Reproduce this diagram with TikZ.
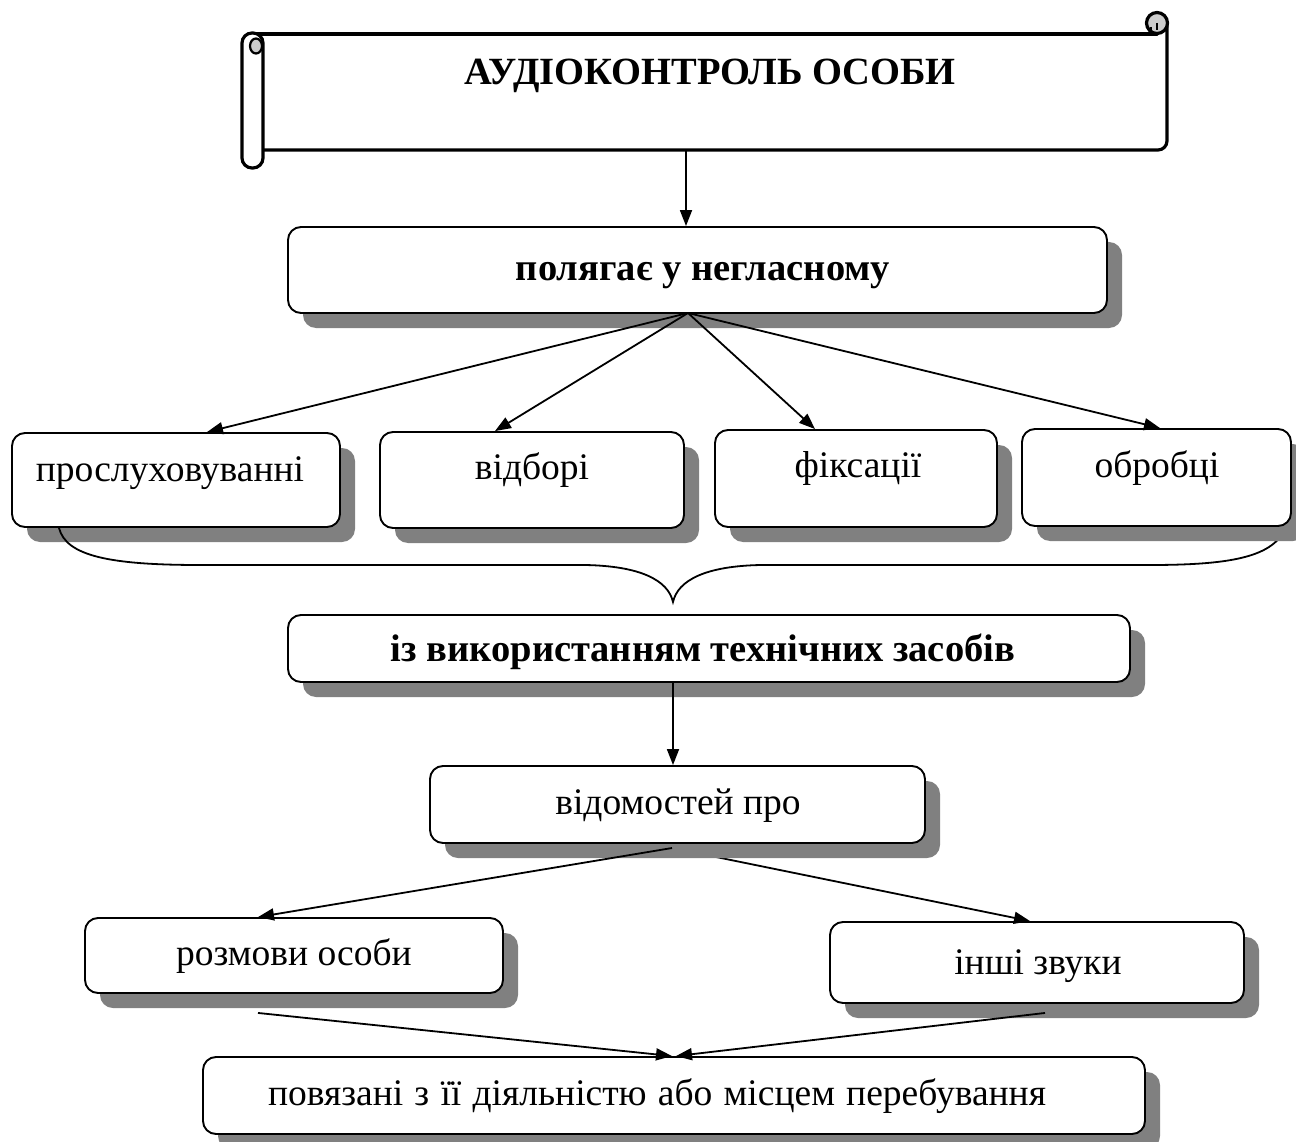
\documentclass[tikz,border=0pt]{standalone}
\usepackage{fontspec}
\setmainfont{Liberation Serif}
\usetikzlibrary{arrows.meta,shadows}
\definecolor{shgray}{HTML}{808080}
\definecolor{rollgray}{HTML}{CCCCCC}
\tikzset{
  box/.style={draw, line width=1.9pt, rounded corners=13pt, fill=white, inner sep=0pt,
    drop shadow={shadow xshift=15pt, shadow yshift=-15pt, fill=shgray, opacity=1}},
  txt/.style={anchor=base, inner sep=0pt, font=\fontsize{37.5}{40}\selectfont},
  btxt/.style={anchor=base, inner sep=0pt, font=\fontsize{38.5}{41}\selectfont\bfseries},
  arr/.style={line width=1.8pt, -{Triangle[length=16pt,width=12pt]}},
  ln/.style={line width=1.8pt},
  scrl/.style={line width=3.2pt, line join=round, line cap=round},
}
\begin{document}
\begin{tikzpicture}[x=1pt,y=-1pt]
\useasboundingbox (0,0) rectangle (1296,1142);
% ---------- scroll ----------
\node[minimum width=905pt, minimum height=115pt, inner sep=0pt] (b1) at (714.5,92.5) {};
\fill[white] (262,35) rectangle (1167,150);
\draw[scrl] (252,34) -- (1157,34);
\draw[scrl, rounded corners=9pt] (1167,23) -- (1167,150) -- (262,150);
\draw[scrl, fill=rollgray] (1157,23) circle (10.5);
\draw[line width=2.2pt] (1151,27) -- (1151,34);
\draw[line width=2.2pt] (1157,23) -- (1157,30);
\draw[scrl, fill=white, rounded corners=10pt] (242,33) rectangle (263,168);
\draw[line width=2.2pt, fill=rollgray] (256,46) ellipse (6 and 7.5);
\node[btxt] (t1) at (710,85) {АУДІОКОНТРОЛЬ ОСОБИ};
% ---------- boxes ----------
\node[box, minimum width=819pt, minimum height=86pt] (b2) at (697.5,270) {};
\node[btxt] (t2) at (703,280) {полягає у негласному};
\node[box, minimum width=328pt, minimum height=94pt] (b3a) at (176,480) {};
\node[txt] (t3a) at (170,481) {прослуховуванні};
\node[box, minimum width=304pt, minimum height=96pt] (b3b) at (532,480) {};
\node[txt] (t3b) at (532,479) {відборі};
\node[box, minimum width=282pt, minimum height=97pt] (b3c) at (856,478.5) {};
\node[txt] (t3c) at (858,477) {фіксації};
% brace
\draw[ln] ([xshift=-117pt]b3a.south) .. controls (66,556) and (110,565) .. (200,565)
  -- (585,565) .. controls (640,566) and (668,580) .. (673,602)
  .. controls (678,580) and (706,566) .. (761,565)
  -- (1150,565) .. controls (1235,565) and (1274,556) .. (1286,527);
\node[box, minimum width=269pt, minimum height=97pt] (b3d) at (1156.5,477.5) {};
\node[txt] (t3d) at (1157,477) {обробці};
\node[box, minimum width=842pt, minimum height=67pt] (b4) at (709,648.5) {};
\node[btxt] (t4) at (703,661) {із використанням технічних засобів};
\node[box, minimum width=418pt, minimum height=75pt] (b6a) at (294,955.5) {};
\node[txt] (t6a) at (294,965) {розмови особи};
\node[box, minimum width=414pt, minimum height=81pt] (b6b) at (1037,962.5) {};
\node[txt] (t6b) at (1038,974) {інші звуки};
\node[box, minimum width=942pt, minimum height=77pt] (b7) at (674,1095.5) {};
\node[txt] (t7) at (657,1105) {\spaceskip=0.3em plus 0.1em\relax повязані з її діяльністю або місцем перебування};
% line under the shadow of b5
\coordinate (v0) at (672,848);
\draw[arr] (v0) -- ([xshift=-7pt]b6b.north);
\node[box, minimum width=495pt, minimum height=77pt] (b5) at (677.5,804.5) {};
\node[txt] (t5) at (678,814) {відомостей про};
% ---------- connectors ----------
\draw[arr] ([xshift=-28.5pt]b1.south) -- ([xshift=-28.5pt]b1.south |- b2.north);
\coordinate (p0) at (688,313);
\draw[arr] (p0) -- ([xshift=31pt]b3a.north);
\draw[arr] (p0) -- ([xshift=-37pt]b3b.north);
\draw[arr] (p0) -- ([xshift=-41pt]b3c.north);
\draw[arr] (p0) -- ([xshift=3.5pt]b3d.north);
\draw[arr] ([xshift=-36pt]b4.south) -- ([xshift=-36pt]b4.south |- b5.north);
\draw[arr] (v0) -- ([xshift=-36pt]b6a.north);
\draw[arr] ([xshift=-36pt,yshift=-19pt]b6a.south) -- ([xshift=-2pt]b7.north);
\draw[arr] ([xshift=8pt,yshift=-9pt]b6b.south) -- ([xshift=2pt]b7.north);
\end{tikzpicture}
\end{document}
